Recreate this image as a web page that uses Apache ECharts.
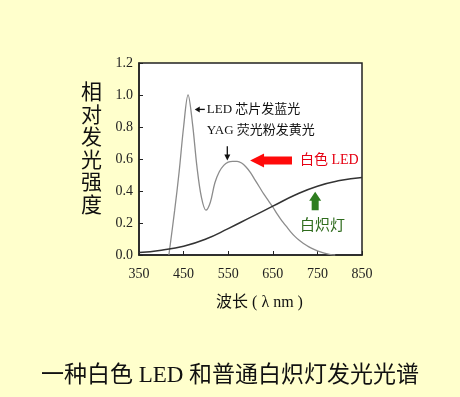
<!DOCTYPE html>
<html>
<head>
<meta charset="utf-8">
<script src="https://cdn.jsdelivr.net/npm/echarts@6/dist/echarts.min.js"></script>
<style>
  html, body { margin: 0; padding: 0; background: #ffffcc; }
  #main { width: 460px; height: 397px; }
</style>
</head>
<body>
<div id="main"></div>
<script>
// 白光LED光谱 (波长 nm, 相对强度)
var ledWave = [417, 430, 440, 450, 460, 470, 480, 490, 500, 510, 520, 530, 540, 550, 560, 570, 580, 590, 600, 610, 620, 630, 640, 650, 660, 670, 680, 690, 700, 710, 720, 730, 740, 750, 760, 770, 780, 790];
var ledValue = [0, 0.28, 0.52, 0.8, 1.0, 0.82, 0.55, 0.36, 0.28, 0.33, 0.45, 0.52, 0.56, 0.58, 0.585, 0.585, 0.575, 0.55, 0.515, 0.47, 0.425, 0.38, 0.34, 0.3, 0.255, 0.215, 0.18, 0.145, 0.115, 0.09, 0.07, 0.052, 0.038, 0.026, 0.016, 0.008, 0.003, 0];

// 白炽灯光谱
var lampWave = [350, 400, 450, 500, 550, 600, 650, 700, 750, 800, 850];
var lampValue = [0.015, 0.03, 0.055, 0.1, 0.165, 0.235, 0.305, 0.375, 0.43, 0.465, 0.485];

var FONT = '"Liberation Serif", "Noto Sans CJK SC", serif';

function zip(xs, ys) {
  return xs.map(function (x, i) { return [x, ys[i]]; });
}

var chart = echarts.init(document.getElementById('main'));

var option = {
  backgroundColor: '#ffffcc',
  animation: false,
  grid: {
    left: 139,
    right: 98,
    top: 63,
    bottom: 142,
    show: true,
    backgroundColor: '#ffffff',
    borderColor: '#222222',
    borderWidth: 1.5
  },
  xAxis: {
    type: 'value',
    min: 350,
    max: 850,
    interval: 100,
    name: '波长 ( λ nm )',
    nameLocation: 'middle',
    nameGap: 40,
    nameTextStyle: { fontFamily: FONT, fontSize: 16, color: '#111', padding: [0, 0, 0, 18] },
    axisLine: { show: true, lineStyle: { color: '#222', width: 1.5 } },
    axisTick: { show: true, inside: true, length: 4, lineStyle: { color: '#222' } },
    splitLine: { show: false },
    axisLabel: { fontFamily: FONT, fontSize: 14, color: '#222', margin: 12 }
  },
  yAxis: {
    type: 'value',
    min: 0,
    max: 1.2,
    interval: 0.2,
    axisLine: { show: true, lineStyle: { color: '#222', width: 1.5 } },
    axisTick: { show: true, inside: true, length: 4, lineStyle: { color: '#222' } },
    splitLine: { show: false },
    axisLabel: {
      fontFamily: FONT, fontSize: 14, color: '#222', margin: 6,
      formatter: function (v) { return v.toFixed(1); }
    }
  },
  series: [
    {
      name: '白色LED',
      type: 'line',
      smooth: 0.35,
      showSymbol: false,
      data: zip(ledWave, ledValue),
      lineStyle: { color: '#8c8c8c', width: 1.3 }
    },
    {
      name: '白炽灯',
      type: 'line',
      smooth: true,
      showSymbol: false,
      data: zip(lampWave, lampValue),
      lineStyle: { color: '#333333', width: 1.5 }
    }
  ]
};

chart.setOption(option);

// 注释: 用数据坐标换算到像素
function px(nm, v) {
  return chart.convertToPixel({ gridIndex: 0 }, [nm, v]);
}

var a1 = px(502, 0.91);   // 蓝光箭头尾
var a2 = px(475, 0.91);   // 蓝光箭头头
var t2 = px(502, 0.78);   // YAG文字
var d1 = px(548, 0.68);   // 向下箭头
var d2 = px(548, 0.59);
var r1 = px(693, 0.59);   // 红箭头尾
var r2 = px(599, 0.59);   // 红箭头尖
var rt = px(711, 0.59);   // 白色LED文字
var g1 = px(745, 0.28);   // 绿箭头底
var g2 = px(745, 0.395);  // 绿箭头尖
var gt = px(711, 0.195);  // 白炽灯文字

var headH = 14, shaftH = 8, headL = 14;
var gw = 12, gs = 7, gl = 9;

chart.setOption({
  title: {
    text: '一种白色 LED 和普通白炽灯发光光谱',
    left: 'center',
    top: 359,
    textStyle: { fontFamily: FONT, fontSize: 23, fontWeight: 'normal', color: '#111' }
  },
  graphic: [
    {
      type: 'text', left: 81, top: 80,
      style: { text: '相\n对\n发\n光\n强\n度', font: '21px "Noto Sans CJK SC"', fill: '#111', lineHeight: 22.5 }
    },
    {
      type: 'line', shape: { x1: a1[0] - 2, y1: a1[1], x2: a2[0] + 4, y2: a2[1] },
      style: { stroke: '#111', lineWidth: 1.3 }
    },
    {
      type: 'polygon',
      shape: { points: [[a2[0], a2[1]], [a2[0] + 5, a2[1] - 3], [a2[0] + 5, a2[1] + 3]] },
      style: { fill: '#111' }
    },
    {
      type: 'text', x: a1[0], y: a1[1],
      style: { text: 'LED 芯片发蓝光', font: '13px ' + FONT, fill: '#111', textVerticalAlign: 'middle' }
    },
    {
      type: 'text', x: t2[0], y: t2[1],
      style: { text: 'YAG 荧光粉发黄光', font: '13px ' + FONT, fill: '#111', textVerticalAlign: 'middle' }
    },
    {
      type: 'line', shape: { x1: d1[0], y1: d1[1], x2: d2[0], y2: d2[1] - 4 },
      style: { stroke: '#111', lineWidth: 1.3 }
    },
    {
      type: 'polygon',
      shape: { points: [[d2[0], d2[1]], [d2[0] - 3, d2[1] - 6], [d2[0] + 3, d2[1] - 6]] },
      style: { fill: '#111' }
    },
    {
      type: 'polygon',
      shape: {
        points: [
          [r2[0], r2[1]],
          [r2[0] + headL, r2[1] - headH / 2],
          [r2[0] + headL, r2[1] - shaftH / 2],
          [r1[0], r1[1] - shaftH / 2],
          [r1[0], r1[1] + shaftH / 2],
          [r2[0] + headL, r2[1] + shaftH / 2],
          [r2[0] + headL, r2[1] + headH / 2]
        ]
      },
      style: { fill: '#ff0a0a' }
    },
    {
      type: 'text', x: rt[0], y: rt[1],
      style: { text: '白色 LED', font: '14px ' + FONT, fill: '#e60012', textVerticalAlign: 'middle' }
    },
    {
      type: 'polygon',
      shape: {
        points: [
          [g2[0], g2[1]],
          [g2[0] + gw / 2, g2[1] + gl],
          [g2[0] + gs / 2, g2[1] + gl],
          [g1[0] + gs / 2, g1[1]],
          [g1[0] - gs / 2, g1[1]],
          [g2[0] - gs / 2, g2[1] + gl],
          [g2[0] - gw / 2, g2[1] + gl]
        ]
      },
      style: { fill: '#2e7d1f' }
    },
    {
      type: 'text', x: gt[0], y: gt[1],
      style: { text: '白炽灯', font: '15px "Noto Sans CJK SC"', fill: '#2e6b1c', textVerticalAlign: 'middle' }
    }
  ]
});
</script>
</body>
</html>
